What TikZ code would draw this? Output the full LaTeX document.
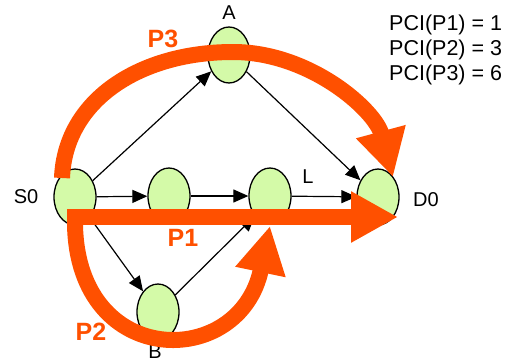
\documentclass[tikz,border=0pt]{standalone}
\usepackage{fontspec}
\setmainfont{Liberation Sans}
\usetikzlibrary{shapes.geometric,arrows.meta}
\definecolor{nodegreen}{RGB}{212,250,168}
\definecolor{pathorange}{RGB}{255,80,0}
\begin{document}
\begin{tikzpicture}[x=1pt,y=-1pt,
  router/.style={ellipse,draw=black,line width=1.3pt,fill=nodegreen,
    minimum width=42pt,minimum height=56pt,inner sep=0pt},
  link/.style={draw=black,line width=1.2pt,-{Triangle[length=15pt,width=13pt]}},
  route/.style={draw=pathorange,line width=16pt,line cap=butt,
    -{Triangle[length=47pt,width=48pt]}},
  routelabel/.style={text=pathorange,font=\fontsize{25}{28}\selectfont\bfseries},
  tag/.style={font=\fontsize{20}{24}\selectfont,inner sep=0pt}]
\useasboundingbox (0,0) rectangle (515,362);

% routers
\node[router] (s0) at (75,197) {};
\node[router] (n1) at (169,196) {};
\node[router] (l)  at (270,196) {};
\node[router] (d0) at (378,197) {};
\node[router] (a)  at (229,55) {};
\node[router] (b)  at (158,312) {};

% router names
\node[tag] (s0name) at (26,197) {S0};
\node[tag] (aname)  at (229,13) {A};
\node[tag] (bname)  at (155,352) {B};
\node[tag] (d0name) at (426,200) {D0};
\node[tag] (lname)  at (308,177) {L};

% links
\draw[link] (s0) -- (n1);
\draw[link] (n1) -- (l);
\draw[link] (l) -- (d0);
\draw[link] (s0) -- (a);
\draw[link] (a) -- (d0);
\draw[link] (s0) -- (b);
\draw[link] (b) -- (l.south west);

% routes
\coordinate (p1from) at (67,217);
\coordinate (p1to)   at (398,217);
\coordinate (p2from) at (75,225);
\coordinate (p2to)   at (270,226);
\coordinate (p3from) at (62,178);
\coordinate (p3top)  at (233,52);
\coordinate (p3to)   at (393,177);

\draw[route] (p1from) -- (p1to);
\draw[route] (p2from) .. controls (78,370) and (240,370) .. (p2to);
\draw[route] (p3from) .. controls (65,100) and (140,52) .. (p3top)
  .. controls (310,52) and (375,110) .. (p3to);

\node[routelabel] (p1name) at (183,238) {P1};
\node[routelabel] (p2name) at (91,332) {P2};
\node[routelabel] (p3name) at (163,39) {P3};

% costs
\node[anchor=north west,align=left,inner sep=0pt,
  font=\fontsize{21.5}{25}\selectfont] (costs) at (389,15)
  {PCI(P1) = 1\\PCI(P2) = 3\\PCI(P3) = 6};
\end{tikzpicture}
\end{document}
